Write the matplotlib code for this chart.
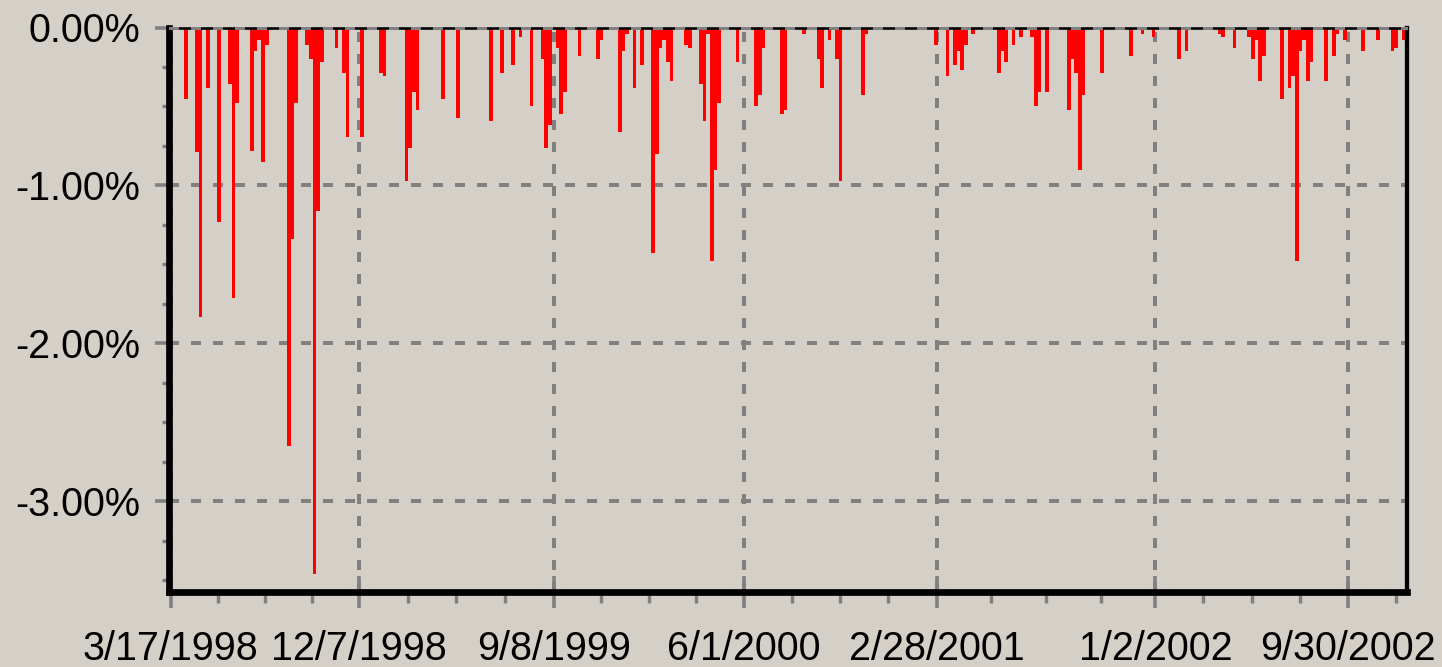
import numpy as np
import pandas as pd
import matplotlib
matplotlib.use("Agg")
import matplotlib.pyplot as plt
import matplotlib.dates as mdates

# ---------------- data ----------------
# each bar covers one period of ~5.18 days, periods counted from period_start
period_start = "1998-03-20"
period_days = 5.183

bar_period = [3, 6, 7, 9, 12, 15, 16, 17, 21, 22, 23, 24, 25, 31, 32, 33, 36, 37, 38, 39,
              40, 44, 46, 47, 51, 56, 57, 63, 64, 65, 66, 73, 77, 86, 89, 92, 94, 97, 100, 101,
              102, 104, 105, 106, 110, 115, 116, 121, 122, 123, 125, 127, 130, 131, 132, 133, 134, 135, 139, 140,
              143, 144, 145, 146, 147, 148, 153, 158, 159, 160, 165, 166, 171, 175, 176, 178, 180, 181, 187, 188,
              207, 210, 212, 213, 214, 215, 217, 224, 225, 226, 228, 230, 233, 234, 235, 237, 243, 244, 245, 246,
              247, 252, 260, 263, 266, 273, 275, 284, 285, 288, 292, 293, 294, 295, 296, 301, 303, 304, 305, 306,
              307, 308, 309, 313, 315, 316, 318, 323, 327, 331, 332, 334]
bar_loss_pct = [-0.45, -0.79, -1.83, -0.38, -1.23, -0.36, -1.71, -0.48, -0.78, -0.15, -0.08, -0.85, -0.11, -2.65, -1.34, -0.48, -0.11, -0.20, -3.46, -1.16,
                -0.22, -0.13, -0.29, -0.69, -0.69, -0.29, -0.31, -0.97, -0.76, -0.41, -0.52, -0.45, -0.57, -0.59, -0.29, -0.24, -0.06, -0.50, -0.20, -0.76,
                -0.62, -0.13, -0.55, -0.41, -0.18, -0.20, -0.08, -0.66, -0.15, -0.04, -0.38, -0.24, -1.43, -0.80, -0.13, -0.08, -0.22, -0.34, -0.11, -0.13,
                -0.36, -0.59, -0.04, -1.48, -0.90, -0.48, -0.22, -0.50, -0.43, -0.13, -0.55, -0.52, -0.04, -0.20, -0.38, -0.08, -0.20, -0.97, -0.43, -0.04,
                -0.11, -0.31, -0.24, -0.15, -0.27, -0.11, -0.04, -0.29, -0.15, -0.22, -0.11, -0.06, -0.06, -0.50, -0.41, -0.41, -0.52, -0.20, -0.29, -0.90,
                -0.43, -0.29, -0.18, -0.04, -0.06, -0.20, -0.15, -0.04, -0.06, -0.13, -0.06, -0.20, -0.08, -0.34, -0.18, -0.45, -0.38, -0.31, -1.48, -0.15,
                -0.08, -0.34, -0.22, -0.34, -0.18, -0.04, -0.08, -0.15, -0.08, -0.15, -0.13, -0.08]

x_tick_dates = ["1998-03-17", "1998-12-07", "1999-09-08", "2000-06-01",
                "2001-02-28", "2002-01-02", "2002-09-30"]
x_tick_labels = ["3/17/1998", "12/7/1998", "9/8/1999", "6/1/2000",
                 "2/28/2001", "1/2/2002", "9/30/2002"]
y_tick_values = [0, -1, -2, -3]
y_tick_labels = ["0.00%", "-1.00%", "-2.00%", "-3.00%"]
x_range = ["1998-03-15", "2002-12-22 12:00"]
y_range = [-3.571, 0]

# ---------------- style ----------------
BG = "#D4D0C8"
GRID = "#808080"
FONT = ["Liberation Sans", "DejaVu Sans"]
plt.rcParams["font.family"] = FONT

W, H, DPI = 1442, 667, 100
fig = plt.figure(figsize=(W / DPI, H / DPI), dpi=DPI, facecolor=BG)
px = 72.0 / DPI  # points per pixel

L, R, T, B = 169.3, 1407.0, 27.5, 591.7
ax = fig.add_axes([L / W, 1 - B / H, (R - L) / W, (B - T) / H], facecolor=BG)

starts = pd.Timestamp(period_start) + pd.to_timedelta(np.array(bar_period) * period_days, unit="D")
xs = mdates.date2num(starts.to_pydatetime())
ax.bar(xs, bar_loss_pct, width=period_days, align="edge", color="#FF0000",
       linewidth=0, antialiased=False, zorder=2)

ax.set_xlim(mdates.date2num(pd.Timestamp(x_range[0])), mdates.date2num(pd.Timestamp(x_range[1])))
ax.set_ylim(*y_range)

major = mdates.date2num(pd.to_datetime(x_tick_dates).to_pydatetime())
minor = []
for a, b in zip(major[:-1], major[1:]):
    minor += [a + (b - a) * k / 4 for k in (1, 2, 3)]
minor.append(major[-1] + (major[-1] - major[-2]) / 4)

ax.set_xticks(major)
ax.set_xticklabels(x_tick_labels)
ax.set_xticks(minor, minor=True)
ax.set_yticks(y_tick_values)
ax.set_yticklabels(y_tick_labels)
ax.set_yticks(np.arange(-3.5, 0.01, 0.25), minor=True)

fs = 39.5 * px
ax.tick_params(axis="x", which="major", direction="inout", length=32 * px, width=3.6 * px,
               color=GRID, pad=22 * px, labelsize=fs, labelcolor="black")
ax.tick_params(axis="x", which="minor", direction="out", length=11.3 * px, width=3.4 * px,
               color=GRID)
ax.tick_params(axis="y", which="major", direction="out", length=14.3 * px, width=3.6 * px,
               color=GRID, pad=15 * px, labelsize=fs, labelcolor="black")
ax.tick_params(axis="y", which="minor", direction="out", length=7.3 * px, width=3.4 * px,
               color=GRID)

lw = 3.7 * px
dash = (0, (10 * px / lw, 12 * px / lw))
ax.set_axisbelow(True)
ax.grid(True, which="major", axis="both", color=GRID, linewidth=lw, linestyle=dash,
        antialiased=False)

ax.spines["left"].set_linewidth(6.7 * px)
ax.spines["bottom"].set_linewidth(6.7 * px)
ax.spines["right"].set_linewidth(4.3 * px)
ax.spines["top"].set_linewidth(2.6 * px)
for s in ax.spines.values():
    s.set_color("black")
    s.set_capstyle("projecting")

# dashed zero line drawn over the top border
ax.axhline(0, color=GRID, linewidth=2.6 * px, linestyle=(0, (10 * px / (2.6 * px), 12 * px / (2.6 * px))),
           zorder=3, clip_on=False, antialiased=False)

fig.savefig("out.png", dpi=DPI, facecolor=BG)
